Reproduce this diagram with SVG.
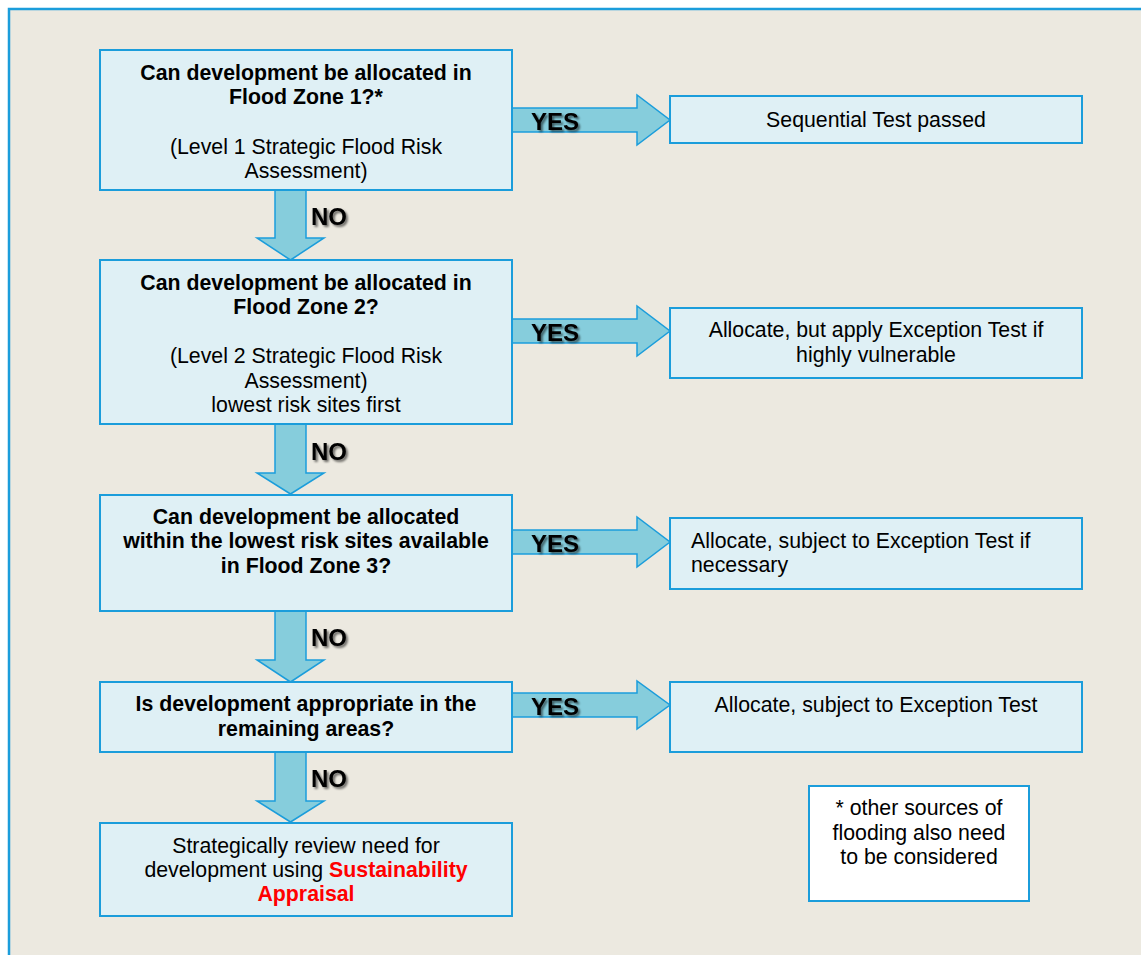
<svg xmlns="http://www.w3.org/2000/svg" width="1141" height="955" viewBox="0 0 1141 955">
<defs>
<style>
.frame{fill:#ECE9E0;stroke:#1B9DDB;stroke-width:2.5}
.box{fill:#DFF0F5;stroke:#1B9DDB;stroke-width:2}
.note{fill:#FFFFFF;stroke:#1B9DDB;stroke-width:2}
.arr{fill:#86CDDC;stroke:#1B9DDB;stroke-width:1.5;stroke-linejoin:miter}
text{font-family:"Liberation Sans",Arial,sans-serif;font-size:21.3px;fill:#000}
.c{text-anchor:middle}
.b{font-weight:bold}
.red{fill:#FF0000;font-weight:bold}
.lbl{font-family:"Liberation Sans",Arial,sans-serif;font-size:24px;font-weight:bold;fill:#000;filter:url(#sh)}
</style>
<filter id="sh" x="-20%" y="-30%" width="150%" height="170%">
<feGaussianBlur in="SourceAlpha" stdDeviation="1.2"/>
<feOffset dx="2" dy="2" result="o"/>
<feComponentTransfer><feFuncA type="linear" slope="0.55"/></feComponentTransfer>
<feMerge><feMergeNode/><feMergeNode in="SourceGraphic"/></feMerge>
</filter>
</defs>
<rect width="1141" height="955" fill="#FFFFFF"/>
<rect class="frame" x="9" y="9" width="1150" height="960"/>

<g id="connectors">
<path class="arr" d="M512,108 H637 V95 L670,120 L637,145 V132 H512 Z"/>
<path class="arr" d="M512,319 H637 V306 L670,331 L637,356 V343 H512 Z"/>
<path class="arr" d="M512,530 H637 V517 L670,542 L637,567 V554 H512 Z"/>
<path class="arr" d="M512,693 H637 V681 L670,705 L637,729 V717 H512 Z"/>
<path class="arr" d="M275,190 V238 H257 L290.5,260 L324,238 H306 V190 Z"/>
<path class="arr" d="M275,424 V473 H257 L290.5,494 L324,473 H306 V424 Z"/>
<path class="arr" d="M275,611 V660 H257 L290.5,682 L324,660 H306 V611 Z"/>
<path class="arr" d="M275,752 V801 H257 L290.5,822 L324,801 H306 V752 Z"/>
<text class="lbl" x="531" y="130">YES</text>
<text class="lbl" x="531" y="341">YES</text>
<text class="lbl" x="531" y="552">YES</text>
<text class="lbl" x="531" y="715">YES</text>
<text class="lbl" x="311" y="225">NO</text>
<text class="lbl" x="311" y="460">NO</text>
<text class="lbl" x="311" y="646">NO</text>
<text class="lbl" x="311" y="787">NO</text>
</g>

<g id="q1">
<rect class="box" x="100" y="50" width="412" height="140"/>
<text class="c b" x="306" y="80">Can development be allocated in</text>
<text class="c b" x="306" y="104">Flood Zone 1?*</text>
<text class="c" x="306" y="154">(Level 1 Strategic Flood Risk</text>
<text class="c" x="306" y="178">Assessment)</text>
</g>

<g id="r1">
<rect class="box" x="670" y="96" width="412" height="47"/>
<text class="c" x="876" y="127">Sequential Test passed</text>
</g>

<g id="q2">
<rect class="box" x="100" y="260" width="412" height="164"/>
<text class="c b" x="306" y="290">Can development be allocated in</text>
<text class="c b" x="306" y="314">Flood Zone 2?</text>
<text class="c" x="306" y="363">(Level 2 Strategic Flood Risk</text>
<text class="c" x="306" y="388">Assessment)</text>
<text class="c" x="306" y="412">lowest risk sites first</text>
</g>

<g id="r2">
<rect class="box" x="670" y="308" width="412" height="70"/>
<text class="c" x="876" y="337">Allocate, but apply Exception Test if</text>
<text class="c" x="876" y="362">highly vulnerable</text>
</g>

<g id="q3">
<rect class="box" x="100" y="495" width="412" height="116"/>
<text class="c b" x="306" y="524">Can development be allocated</text>
<text class="c b" x="306" y="548">within the lowest risk sites available</text>
<text class="c b" x="306" y="573">in Flood Zone 3?</text>
</g>

<g id="r3">
<rect class="box" x="670" y="518" width="412" height="71"/>
<text x="691" y="548">Allocate, subject to Exception Test if</text>
<text x="691" y="572">necessary</text>
</g>

<g id="q4">
<rect class="box" x="100" y="682" width="412" height="70"/>
<text class="c b" x="306" y="711">Is development appropriate in the</text>
<text class="c b" x="306" y="736">remaining areas?</text>
</g>

<g id="r4">
<rect class="box" x="670" y="682" width="412" height="70"/>
<text class="c" x="876" y="712">Allocate, subject to Exception Test</text>
</g>

<g id="review">
<rect class="box" x="100" y="823" width="412" height="93"/>
<text class="c" x="306" y="853">Strategically review need for</text>
<text class="c" x="306" y="877">development using <tspan class="red">Sustainability</tspan></text>
<text class="c red" x="306" y="901">Appraisal</text>
</g>

<g id="footnote">
<rect class="note" x="809" y="786" width="220" height="115"/>
<text class="c" x="919" y="815">* other sources of</text>
<text class="c" x="919" y="840">flooding also need</text>
<text class="c" x="919" y="864">to be considered</text>
</g>
</svg>
